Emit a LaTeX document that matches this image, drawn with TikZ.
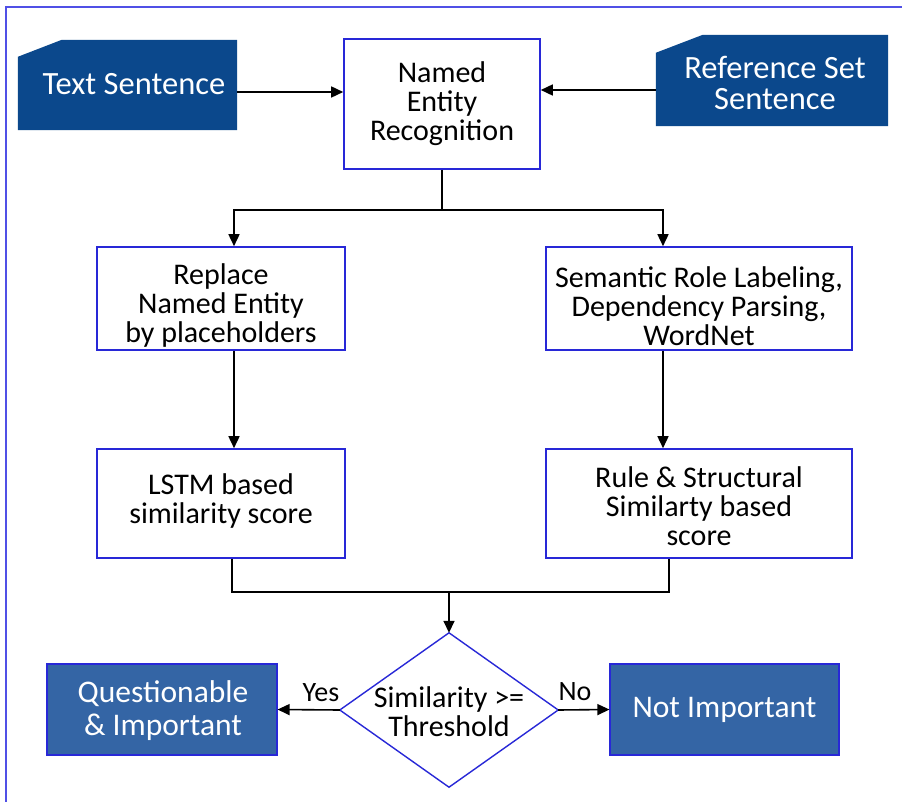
\documentclass[tikz,border=0pt]{standalone}
\usepackage{fontspec}
\setmainfont{Carlito}
\usetikzlibrary{arrows.meta,backgrounds}
\definecolor{darkbox}{RGB}{11,72,140}
\definecolor{midbox}{RGB}{52,101,165}
\definecolor{edgeblue}{RGB}{40,40,215}
\definecolor{framecol}{RGB}{80,80,230}
\begin{document}
\begin{tikzpicture}[x=1pt,y=-1pt,
  procbox/.style={draw=edgeblue,line width=1.6pt,fill=white,inner sep=0pt},
  proctext/.style={align=center,inner sep=0pt,font=\fontsize{30}{29}\selectfont},
  intext/.style={inner sep=0pt,align=center,text=white,font=\fontsize{32.5}{31}\selectfont},
  outbox/.style={fill=midbox,draw=edgeblue,line width=1.2pt,inner sep=0pt,align=center,text=white,font=\fontsize{31.5}{33}\selectfont},
  conn/.style={line width=1.6pt,black},
  arr/.style={conn,-{Triangle[length=12pt,width=11pt]}},
  lbl/.style={font=\fontsize{28}{28}\selectfont,inner sep=0pt},
  diatext/.style={font=\fontsize{30}{29}\selectfont,inner sep=0pt,align=center}]
\useasboundingbox (0,0) rectangle (902,802);

% input shapes
\node[minimum width=219pt,minimum height=90pt,inner sep=0pt] (ts) at (127.5,85) {};
\node[intext] (tstext) at (134,84) {Text Sentence};
\node[minimum width=232pt,minimum height=91pt,inner sep=0pt] (rs) at (772,80.5) {};
\node[intext] (rstext) at (775,83) {Reference Set\\Sentence};
\begin{scope}[on background layer]
  \fill[white] (0,0) rectangle (902,802);
  \fill[darkbox] (ts.south west) -- (ts.south east) -- (ts.north east)
    -- ([xshift=44pt]ts.north west) -- ([yshift=-17pt]ts.north west) -- cycle;
  \fill[darkbox] (rs.south west) -- (rs.south east) -- (rs.north east)
    -- ([xshift=47pt]rs.north west) -- ([yshift=-18pt]rs.north west) -- cycle;
\end{scope}
\draw[framecol,line width=2pt] (6,802) -- (6,7) -- (902,7);

% process boxes
\node[procbox,minimum width=196pt,minimum height=130pt] (ner) at (442,104) {};
\node[proctext] (nertext) at (442,104) {Named\\Entity\\Recognition};
\node[procbox,minimum width=248pt,minimum height=103pt] (rep) at (221,298.5) {};
\node[proctext] (reptext) at (221,306) {Replace\\Named Entity\\by placeholders};
\node[procbox,minimum width=306pt,minimum height=103pt] (sem) at (699,298.5) {};
\node[proctext] (semtext) at (699,306) {Semantic Role Labeling,\\Dependency Parsing,\\WordNet};
\node[procbox,minimum width=248pt,minimum height=109pt] (lstm) at (221,503.5) {};
\node[proctext] (lstmtext) at (221,501) {LSTM based\\similarity score};
\node[procbox,minimum width=306pt,minimum height=109pt] (rule) at (699,503.5) {};
\node[proctext] (ruletext) at (699,506) {Rule \& Structural\\Similarty based\\score};

% decision
\node[minimum width=218pt,minimum height=154pt,inner sep=0pt] (dia) at (449,710) {};
\draw[edgeblue,line width=1.4pt,fill=white] (dia.north) -- (dia.east) -- (dia.south) -- (dia.west) -- cycle;
\node[diatext] (diatxt) at (449,712) {Similarity >=\\Threshold};

% outputs
\node[outbox,minimum width=230pt,minimum height=91pt] (q) at (162,709.5) {};
\node[outbox,draw=none,fill=none] (qtext) at (163,711) {Questionable\\\& Important};
\node[outbox,minimum width=229pt,minimum height=91pt] (ni) at (724.5,709.5) {Not Important};

% connectors
\draw[arr] ([yshift=-7pt]ts.east) -- ([yshift=-7pt]ts.east -| ner.west);
\draw[arr] ([yshift=-9.5pt]rs.west) -- ([yshift=-9.5pt]rs.west -| ner.east);
\coordinate (br) at ([yshift=-40pt]ner.south);
\draw[conn] (ner.south) -- (br);
\draw[arr] (br) -| ([xshift=13pt]rep.north);
\draw[arr] (br) -| ([xshift=-36pt]sem.north);
\draw[arr] ([xshift=13pt]rep.south) -- ([xshift=13pt]lstm.north);
\draw[arr] ([xshift=-36pt]sem.south) -- ([xshift=-36pt]rule.north);
\coordinate (mg) at ([yshift=-33pt]lstm.south -| dia.north);
\draw[conn] ([xshift=11pt]lstm.south) |- (mg) -| ([xshift=-30pt]rule.south);
\draw[arr] (mg) -- (dia.north);
\draw[arr] (dia.west) -- (q.east);
\draw[arr] (dia.east) -- (ni.west);
\node[lbl] (yes) at (321,693) {Yes};
\node[lbl] (no) at (575,692) {No};
\end{tikzpicture}
\end{document}
